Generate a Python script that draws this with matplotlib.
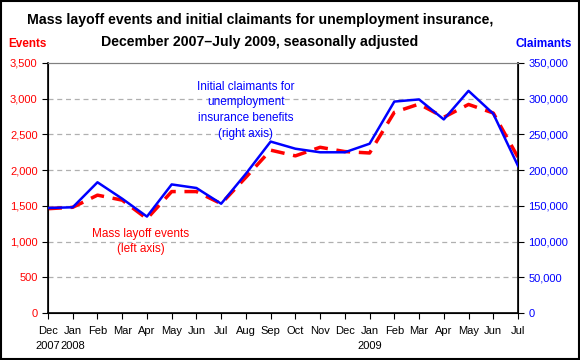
import numpy as np
import matplotlib.pyplot as plt

plt.rcParams['font.family'] = ['Liberation Sans', 'DejaVu Sans']

# Data
months = ['Dec\n2007', 'Jan\n2008', 'Feb', 'Mar', 'Apr', 'May', 'Jun', 'Jul', 'Aug', 'Sep',
          'Oct', 'Nov', 'Dec', 'Jan\n2009', 'Feb', 'Mar', 'Apr', 'May', 'Jun', 'Jul']
events = [1460, 1480, 1650, 1580, 1320, 1700, 1700, 1530, 1900, 2280,
          2200, 2320, 2260, 2240, 2810, 2925, 2740, 2920, 2800, 2180]
claimants = [147000, 148000, 183000, 160000, 135000, 180000, 175000, 153000, 195000, 240000,
             230000, 225000, 225000, 237000, 296000, 299000, 271000, 311000, 279000, 206000]

x = np.arange(len(months))

fig = plt.figure(figsize=(5.8, 3.6), dpi=100)
ax = fig.add_axes([48/580, 47/360, 470/580, 250/360])
ax2 = ax.twinx()

# lijnen
ax.plot(x, events, color='red', lw=2.5, ls=(0, (4, 2.5)), zorder=3)
ax2.plot(x, claimants, color='blue', lw=1.8, zorder=4)

ax.set_xlim(0, len(months) - 1)
ax.set_ylim(0, 3500)
ax2.set_ylim(0, 350000)
ax.set_yticks(np.arange(0, 3501, 500))
ax2.set_yticks(np.arange(0, 350001, 50000))
ax.set_yticklabels([f'{v:,}' for v in range(0, 3501, 500)], color='red')
ax2.set_yticklabels([f'{v:,}' for v in range(0, 350001, 50000)], color='blue')
ax.set_xticks(x)
ax.set_xticklabels(months, fontsize=8, linespacing=1.7, va='top')

ax.tick_params(axis='y', labelsize=8, length=4, direction='out')
ax2.tick_params(axis='y', labelsize=8, length=4, direction='out')
ax.tick_params(axis='x', length=4, direction='out', pad=5)

for v in range(500, 3001, 500):
    ax.axhline(v, color='#b0b0b0', ls=(0, (4, 3)), lw=0.9, zorder=1)

ax.spines['top'].set_color('#808080')
ax2.spines['top'].set_color('#808080')
for sp in ['left', 'right', 'bottom']:
    ax2.spines[sp].set_linewidth(1.2)

# titel (twee regels) en aslabels
fig.text(260/580, 1 - 20/360, 'Mass layoff events and initial claimants for unemployment insurance,',
         ha='center', va='center', fontsize=10.2, fontweight='bold')
fig.text(260/580, 1 - 42/360, 'December 2007\u2013July 2009, seasonally adjusted',
         ha='center', va='center', fontsize=10.2, fontweight='bold')
fig.text(8/580, 1 - 44/360, 'Events', color='red', fontsize=8.5, fontweight='bold', va='center')
fig.text(572/580, 1 - 44/360, 'Claimants', color='blue', fontsize=8.5, fontweight='bold',
         va='center', ha='right')

ax.text(8.0, 2840, 'Initial claimants for\nunemployment\ninsurance benefits\n(right axis)',
        color='blue', fontsize=8.5, ha='center', va='center', linespacing=1.4)
ax.text(3.75, 1000, 'Mass layoff events\n(left axis)', color='red', fontsize=8.5,
        ha='center', va='center', linespacing=1.4)

# rand om de figuur
fig.patches.append(plt.Rectangle((0.001, 0.002), 0.997, 0.995, transform=fig.transFigure,
                                 fill=False, edgecolor='black', lw=1.5))

fig.savefig('out.png', dpi=100)
